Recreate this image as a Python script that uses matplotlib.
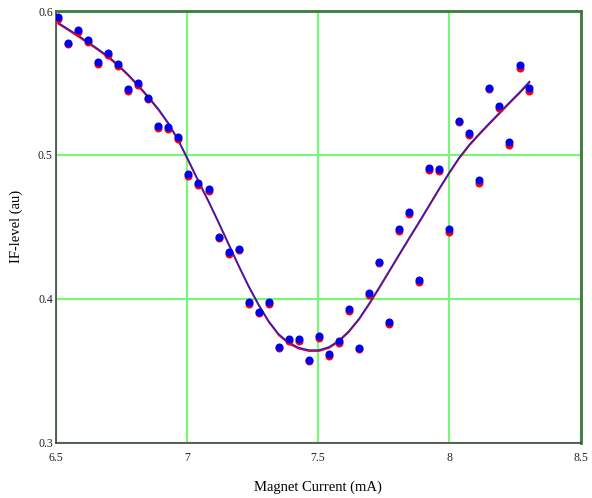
import matplotlib
matplotlib.use("Agg")
import matplotlib.pyplot as plt

# Magnet current sweep (mA)
current_ma = [6.510, 6.548, 6.586, 6.624, 6.662, 6.701, 6.739, 6.777, 6.815, 6.853,
              6.892, 6.930, 6.968, 7.006, 7.044, 7.083, 7.121, 7.159, 7.197, 7.235,
              7.274, 7.312, 7.350, 7.388, 7.426, 7.465, 7.503, 7.541, 7.579, 7.617,
              7.656, 7.694, 7.732, 7.770, 7.808, 7.846, 7.885, 7.923, 7.961, 7.999,
              8.037, 8.076, 8.114, 8.152, 8.190, 8.228, 8.267, 8.305]

# IF level, second pass (blue)
if_level_b = [0.5956, 0.5780, 0.5868, 0.5798, 0.5643, 0.5706, 0.5629, 0.5456, 0.5497, 0.5397,
              0.5202, 0.5191, 0.5122, 0.4864, 0.4802, 0.4760, 0.4431, 0.4322, 0.4347, 0.3978,
              0.3909, 0.3974, 0.3666, 0.3717, 0.3717, 0.3577, 0.3738, 0.3615, 0.3705, 0.3926,
              0.3659, 0.4041, 0.4255, 0.3839, 0.4484, 0.4604, 0.4129, 0.4910, 0.4903, 0.4484,
              0.5237, 0.5150, 0.4823, 0.5467, 0.5341, 0.5086, 0.5622, 0.5462]

# IF level, first pass (red)
if_level_r = [0.5944, 0.5768, 0.5856, 0.5786, 0.5631, 0.5694, 0.5617, 0.5444, 0.5485, 0.5385,
              0.5190, 0.5179, 0.5110, 0.4852, 0.4790, 0.4748, 0.4419, 0.4310, 0.4335, 0.3966,
              0.3897, 0.3962, 0.3654, 0.3705, 0.3705, 0.3565, 0.3726, 0.3603, 0.3693, 0.3914,
              0.3647, 0.4029, 0.4245, 0.3827, 0.4472, 0.4592, 0.4117, 0.4898, 0.4891, 0.4464,
              0.5225, 0.5138, 0.4803, 0.5455, 0.5329, 0.5066, 0.5602, 0.5442]

# Smoothed fit, second pass (blue)
fit_level_b = [0.5919, 0.5875, 0.5830, 0.5784, 0.5736, 0.5684, 0.5625, 0.5558, 0.5485, 0.5405,
               0.5319, 0.5221, 0.5103, 0.4964, 0.4821, 0.4679, 0.4533, 0.4383, 0.4234, 0.4091,
               0.3959, 0.3844, 0.3754, 0.3695, 0.3660, 0.3643, 0.3643, 0.3664, 0.3709, 0.3775,
               0.3862, 0.3966, 0.4077, 0.4192, 0.4307, 0.4421, 0.4536, 0.4651, 0.4766, 0.4877,
               0.4981, 0.5072, 0.5148, 0.5221, 0.5292, 0.5364, 0.5435, 0.5510]

# Smoothed fit, first pass (red)
fit_level_r = [0.5911, 0.5867, 0.5822, 0.5776, 0.5728, 0.5676, 0.5617, 0.5550, 0.5477, 0.5397,
               0.5311, 0.5213, 0.5095, 0.4956, 0.4813, 0.4671, 0.4525, 0.4375, 0.4226, 0.4083,
               0.3951, 0.3836, 0.3746, 0.3687, 0.3652, 0.3635, 0.3635, 0.3656, 0.3701, 0.3767,
               0.3854, 0.3958, 0.4069, 0.4184, 0.4299, 0.4413, 0.4528, 0.4643, 0.4758, 0.4869,
               0.4973, 0.5064, 0.5140, 0.5213, 0.5284, 0.5356, 0.5427, 0.5502]

x_ticks = [6.5, 7, 7.5, 8, 8.5]
x_tick_labels = ["6.5", "7", "7.5", "8", "8.5"]
y_ticks = [0.3, 0.4, 0.5, 0.6]
y_tick_labels = ["0.3", "0.4", "0.5", "0.6"]

plt.rcParams["font.family"] = ["Liberation Serif", "DejaVu Serif"]

fig = plt.figure(figsize=(5.92, 4.98), dpi=100)
ax = fig.add_axes([0.0938, 0.1114, 0.8871, 0.8665])

ax.set_xlim(6.5, 8.5)
ax.set_ylim(0.3, 0.6)

ax.set_xticks(x_ticks)
ax.set_xticklabels(x_tick_labels)
ax.set_yticks(y_ticks)
ax.set_yticklabels(y_tick_labels)
ax.tick_params(length=0, labelsize=8.5, colors="#222222")
ax.tick_params(axis="x", pad=7)
ax.tick_params(axis="y", pad=2)

ax.grid(True, color="#7cf57c", linewidth=1.6)
ax.set_axisbelow(True)

for side in ("left", "bottom"):
    ax.spines[side].set_color("#444444")
    ax.spines[side].set_linewidth(1.2)
for side in ("top", "right"):
    ax.spines[side].set_color("#3c7a3c")
    ax.spines[side].set_linewidth(2.0)

ax.plot(current_ma, fit_level_r, color="red", linewidth=1.1, zorder=3)
ax.plot(current_ma, fit_level_b, color="#2020c8", linewidth=1.1, zorder=4)
ax.plot(current_ma, if_level_r, linestyle="none", marker="o", markersize=5.8,
        color="red", markeredgewidth=0, zorder=5)
ax.plot(current_ma, if_level_b, linestyle="none", marker="o", markersize=5.8,
        color="#0000ee", markeredgewidth=0, zorder=6)

ax.set_xlabel("Magnet Current (mA)", fontsize=10.5, labelpad=12)
ax.set_ylabel("IF-level (au)", fontsize=10.5, labelpad=11)

fig.savefig("out.png", dpi=100)
